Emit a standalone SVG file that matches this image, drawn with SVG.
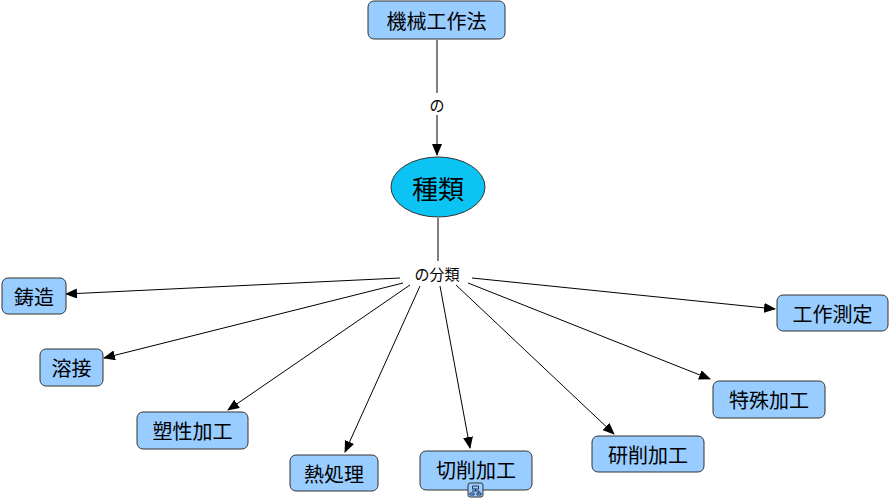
<svg xmlns="http://www.w3.org/2000/svg" width="890" height="504" viewBox="0 0 890 504">
<style>
.n rect{fill:#99ccff;stroke:#333;stroke-width:1}
text{font-family:"Noto Sans CJK JP","Noto Sans CJK SC",sans-serif;fill:#000;text-anchor:middle;dominant-baseline:central}
.t{font-size:20px}
.l{font-size:15px}
.c line{stroke:#000;stroke-width:1}
.c line.a{marker-end:url(#ar)}
</style>
<defs><marker id="ar" markerWidth="12" markerHeight="10" refX="11" refY="5" orient="auto" markerUnits="userSpaceOnUse"><path d="M0,0L12,5L0,10z" fill="#000"/></marker></defs>
<rect width="890" height="504" fill="#fff"/>
<g class="c">
<line x1="437" y1="40" x2="437" y2="93"/>
<line class="a" x1="437" y1="115" x2="437" y2="155"/>
<line x1="438" y1="218" x2="438" y2="261"/>
<line class="a" x1="400" y1="278" x2="66" y2="294"/>
<line class="a" x1="403" y1="283" x2="104" y2="358"/>
<line class="a" x1="410" y1="285" x2="228" y2="410"/>
<line class="a" x1="420" y1="286" x2="345" y2="452"/>
<line class="a" x1="440" y1="286" x2="470" y2="448"/>
<line class="a" x1="456" y1="285" x2="614" y2="434"/>
<line class="a" x1="468" y1="283" x2="710" y2="379"/>
<line class="a" x1="472" y1="278" x2="775" y2="309"/>
<text class="l" x="437" y="104">の</text>
<text class="l" x="437" y="273">の分類</text>
</g>
<g id="n0" class="n"><rect x="368" y="1" width="137" height="38" rx="6"/><text class="t" x="436.5" y="20">機械工作法</text></g>
<g id="n1"><ellipse cx="438" cy="187" rx="47" ry="30" fill="#0bc4f4" stroke="#333"/><text x="438" y="187" font-size="26">種類</text></g>
<g id="n2" class="n"><rect x="2" y="278" width="64" height="36" rx="6"/><text class="t" x="34" y="296">鋳造</text></g>
<g id="n3" class="n"><rect x="40" y="349" width="63" height="37" rx="6"/><text class="t" x="71.5" y="367.5">溶接</text></g>
<g id="n4" class="n"><rect x="137" y="412" width="111" height="37" rx="6"/><text class="t" x="192.5" y="430.5">塑性加工</text></g>
<g id="n5" class="n"><rect x="290" y="455" width="88" height="36" rx="6"/><text class="t" x="334" y="473">熱処理</text></g>
<g id="n6" class="n"><rect x="420" y="451" width="112" height="39" rx="6"/><text class="t" x="476" y="469">切削加工</text>
<rect x="468" y="483" width="15" height="14" rx="2" fill="#fff" stroke="#446"/><path d="M472.5,486h6v3h-6zM470,493h4v2h-4zM477,493h4v2h-4zM475.5,489v2M472,491h7v2" fill="none" stroke="#235" stroke-width="1"/></g>
<g id="n7" class="n"><rect x="592" y="436" width="112" height="36" rx="6"/><text class="t" x="648" y="454">研削加工</text></g>
<g id="n8" class="n"><rect x="713" y="381" width="112" height="37" rx="6"/><text class="t" x="769" y="399.5">特殊加工</text></g>
<g id="n9" class="n"><rect x="777" y="295" width="111" height="36" rx="6"/><text class="t" x="832.5" y="313">工作測定</text></g>
</svg>
